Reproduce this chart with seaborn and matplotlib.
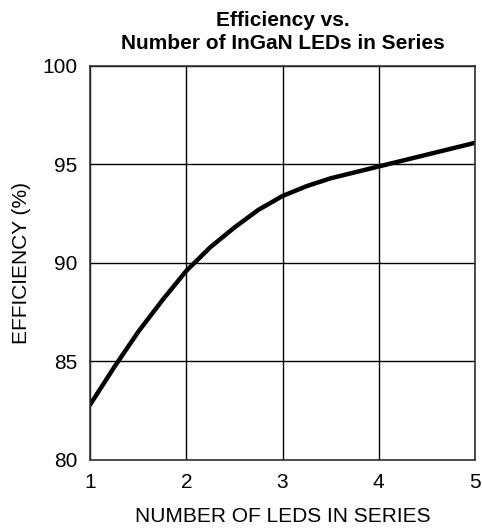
import matplotlib
matplotlib.use("Agg")
import matplotlib.pyplot as plt
import pandas as pd
import seaborn as sns

# values
num_leds = [1, 1.25, 1.5, 1.75, 2, 2.25, 2.5, 2.75, 3, 3.25, 3.5, 3.75, 4, 4.25, 4.5, 4.75, 5]
efficiency = [82.8, 84.7, 86.5, 88.1, 89.6, 90.8, 91.8, 92.7, 93.4, 93.9, 94.3, 94.6,
              94.9, 95.2, 95.5, 95.8, 96.1]
x_ticks = [1, 2, 3, 4, 5]
y_ticks = [80, 85, 90, 95, 100]

data = pd.DataFrame({"leds": num_leds, "eff": efficiency})

sns.set_style("white")
plt.rcParams['font.family'] = ['Liberation Sans', 'DejaVu Sans']
plt.rcParams['text.color'] = 'black'
plt.rcParams['axes.labelcolor'] = 'black'

fig = plt.figure(figsize=(4.82, 5.29), dpi=100)
ax = fig.add_axes([90 / 482, 1 - 460 / 529, 385 / 482, 394 / 529])

sns.lineplot(data=data, x="leds", y="eff", ax=ax, color="black", linewidth=3.2)

ax.set_xlim(1, 5)
ax.set_ylim(80, 100)
ax.set_xticks(x_ticks)
ax.set_yticks(y_ticks)
ax.grid(True, color="black", linewidth=1.0)
ax.set_axisbelow(True)
for s in ax.spines.values():
    s.set_color("#333333")
    s.set_linewidth(1.2)
ax.tick_params(length=0, pad=9, labelsize=15, colors="black")

ax.set_xlabel("NUMBER OF LEDS IN SERIES", fontsize=15, labelpad=11)
ax.set_ylabel("EFFICIENCY (%)", fontsize=15, labelpad=8)
ax.set_title("Efficiency vs.\nNumber of InGaN LEDs in Series", fontsize=15,
             fontweight="bold", linespacing=1.3, pad=12)

plt.savefig("out.png", dpi=100)
